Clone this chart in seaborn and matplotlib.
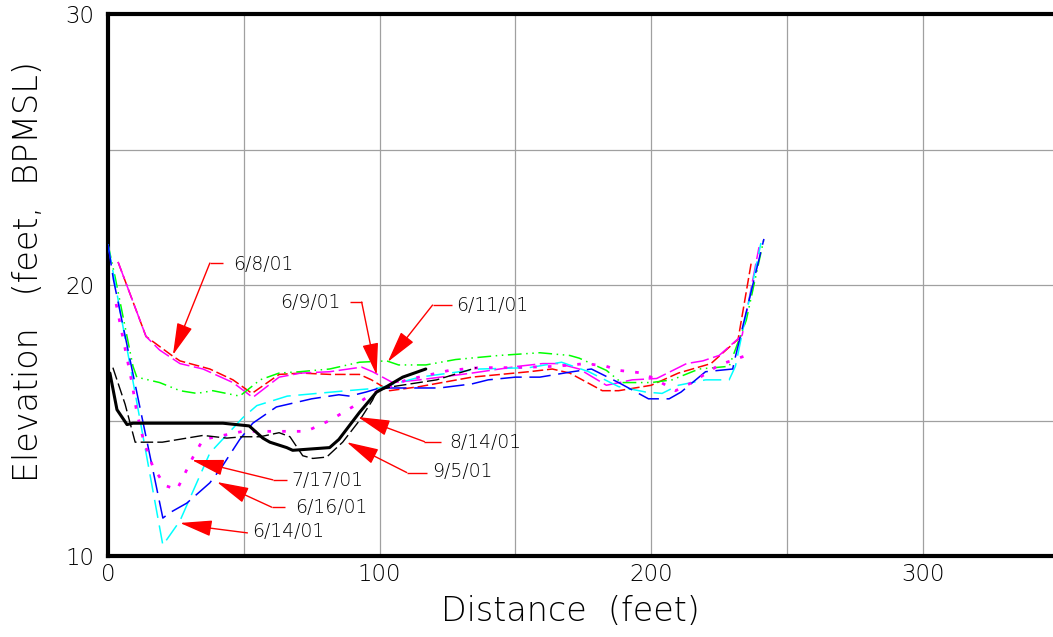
import matplotlib
matplotlib.use("Agg")
import matplotlib.pyplot as plt
import seaborn as sns
import pandas as pd

# Cross-section survey profiles: distance (ft) vs elevation (ft, BPMSL)
d_0608 = [3.7, 14, 23.5, 26.5, 37.5, 46, 53, 63, 71, 82, 92.6, 97, 103.7, 114.7, 134, 155, 163.6, 170, 182, 188, 200, 210, 222, 232, 236.8]
e_0608 = [20.85, 18.1, 17.4, 17.2, 16.9, 16.5, 16.0, 16.7, 16.75, 16.7, 16.7, 16.5, 16.1, 16.25, 16.6, 16.8, 16.9, 16.75, 16.1, 16.1, 16.3, 16.75, 17.1, 18.0, 20.8]

d_0609 = [3.7, 14, 19, 26.5, 35, 46, 53.3, 63, 71, 81.6, 93.4, 97.4, 104.8, 114.7, 134, 151, 160, 166, 173.5, 183.5, 193, 202, 213, 219, 225, 233.5, 239.7]
e_0609 = [20.85, 18.1, 17.6, 17.1, 16.9, 16.4, 15.85, 16.6, 16.75, 16.8, 16.97, 16.8, 16.4, 16.5, 16.75, 17.0, 17.1, 17.1, 16.9, 16.3, 16.5, 16.55, 17.1, 17.2, 17.4, 18.15, 21.4]

d_0611 = [0, 2.6, 9.2, 10.6, 19, 26.5, 32.7, 38.6, 48.5, 56, 63, 70.6, 81.6, 92.6, 102.6, 107, 117, 128, 144, 159, 170, 173.5, 183.5, 189, 200, 207.7, 217.6, 228.7, 235, 241.5]
e_0611 = [21.5, 20.3, 17.0, 16.6, 16.4, 16.1, 16.0, 16.1, 15.9, 16.5, 16.75, 16.8, 16.9, 17.15, 17.2, 17.05, 17.05, 17.25, 17.4, 17.5, 17.4, 17.3, 16.85, 16.4, 16.4, 16.5, 16.9, 17.0, 18.7, 21.7]

d_0614 = [0, 20.2, 26.5, 37.5, 49.6, 54.8, 66, 88, 100, 114.7, 136.8, 155, 167, 177, 188, 198, 204, 210, 220, 228.7, 231, 240.4]
e_0614 = [21.5, 10.4, 11.3, 13.8, 15.1, 15.55, 15.9, 16.1, 16.2, 16.6, 16.9, 16.95, 17.15, 16.8, 16.25, 16.05, 16.0, 16.3, 16.5, 16.5, 17.0, 21.55]

d_0616 = [0, 2, 20.2, 22.8, 29, 37.5, 42, 48.5, 53.3, 62, 75, 85, 89, 95, 100, 116, 122, 134, 140, 150, 159, 171, 178, 188, 199, 206.6, 211, 220, 230, 231, 241.5]
e_0616 = [21.5, 20.2, 11.4, 11.6, 11.95, 12.7, 13.3, 14.3, 14.9, 15.5, 15.8, 15.95, 15.9, 16.05, 16.2, 16.2, 16.2, 16.35, 16.5, 16.6, 16.6, 16.8, 16.9, 16.4, 15.8, 15.8, 16.05, 16.8, 16.9, 17.35, 21.7]

d_0717 = [3, 7, 8.8, 10.6, 13, 16.5, 21, 25.4, 27.6, 31.3, 35, 40, 49.6, 58.5, 73, 81.6, 90, 97.4, 110, 125.7, 136.8, 149, 165, 176, 183.5, 188, 197, 205.5, 209, 215, 225, 235]
e_0717 = [19.3, 17.3, 16.4, 15.3, 14.3, 13.3, 12.6, 12.45, 12.9, 13.65, 14.3, 14.4, 14.6, 14.6, 14.6, 15.0, 15.5, 16.0, 16.5, 16.85, 16.95, 16.95, 17.0, 17.1, 17.0, 16.85, 16.75, 16.3, 16.1, 16.4, 17.05, 17.4]

d_0814 = [0.7, 3.3, 7, 9.2, 42.3, 52, 57, 59.6, 65.8, 68, 81.6, 85, 92.6, 98.9, 102.6, 108.5, 117]
e_0814 = [16.75, 15.4, 14.85, 14.9, 14.9, 14.8, 14.35, 14.2, 14.0, 13.9, 14.0, 14.3, 15.3, 16.05, 16.25, 16.6, 16.9]

d_0905 = [1.8, 6.3, 10, 20, 35, 43.7, 49.6, 56, 63, 67, 71.7, 75.4, 80.5, 86.4, 92.6, 97.4, 99, 104.8, 121, 135.7]
e_0905 = [16.95, 15.6, 14.2, 14.2, 14.45, 14.35, 14.4, 14.4, 14.55, 14.4, 13.7, 13.6, 13.65, 14.2, 15.0, 15.75, 16.1, 16.25, 16.5, 16.95]

x_ticks = [0, 100, 200, 300]
y_ticks = [10, 20, 30]

series = [
    ("6/8/01", d_0608, e_0608, "#ff0000", (0, (7, 2.5)), 1.1),
    ("6/9/01", d_0609, e_0609, "#ff00ff", (0, (12, 3)), 1.1),
    ("6/11/01", d_0611, e_0611, "#00ff00", (0, (9, 3, 1, 3, 1, 3)), 1.1),
    ("6/14/01", d_0614, e_0614, "#00ffff", (0, (12, 5)), 1.1),
    ("6/16/01", d_0616, e_0616, "#0000ff", (0, (14, 5)), 1.1),
    ("7/17/01", d_0717, e_0717, "#ff00ff", (0, (1.3, 4)), 2.0),
    ("8/14/01", d_0814, e_0814, "#000000", "-", 2.2),
    ("9/5/01", d_0905, e_0905, "#000000", (0, (9, 3)), 1.0),
]

# Callouts: label, text anchor, alignment, elbow, leader start, arrow tip
callouts = [
    ("6/8/01", (46.0, 20.74), "left", (42.3, 20.81), (37.5, 20.81), (23.9, 17.42)),
    ("6/9/01", (85.7, 19.35), "right", (89.0, 19.37), (93.4, 19.37), (98.9, 16.68)),
    ("6/11/01", (128.3, 19.26), "left", (126.5, 19.26), (119.5, 19.26), (103.0, 17.16)),
    ("8/14/01", (125.7, 14.2), "left", (122.5, 14.22), (116.5, 14.22), (92.0, 15.13)),
    ("9/5/01", (119.5, 13.1), "left", (117.3, 13.08), (110.0, 13.08), (87.9, 14.2)),
    ("7/17/01", (67.6, 12.8), "left", (65.8, 12.81), (60.7, 12.81), (30.9, 13.54)),
    ("6/16/01", (68.8, 11.8), "left", (65.1, 11.8), (60.3, 11.8), (40.1, 12.73)),
    ("6/14/01", (52.9, 10.89), "left", (51.5, 10.85), (37.5, 11.03), (26.5, 11.22)),
]

sns.set_theme(style="white")
plt.rcParams["font.family"] = ["DejaVu Sans"]
thin = 200

fig = plt.figure(figsize=(10.53, 6.37), dpi=100)
ax = fig.add_axes([108 / 1053, 81 / 637, 950.6 / 1053, 542 / 637])

for label, d, e, color, ls, lw in series:
    df = pd.DataFrame({"Distance": d, "Elevation": e})
    sns.lineplot(data=df, x="Distance", y="Elevation", ax=ax, color=color,
                 linestyle=ls, linewidth=lw, sort=False, estimator=None,
                 legend=False, zorder=3 if label != "8/14/01" else 4)

for text, (tx, ty), ha, (ex, ey), (sx, sy), tip in callouts:
    ax.text(tx, ty, text, ha=ha, va="center", fontsize=13.5, color="black",
            fontweight=thin, zorder=6)
    ax.plot([ex, sx], [ey, sy], color="red", lw=1.0, zorder=5, solid_capstyle="butt")
    ax.annotate("", xy=tip, xytext=(sx, sy),
                arrowprops=dict(arrowstyle="-|>,head_length=2.0,head_width=0.5",
                                color="red", lw=1.0, shrinkA=0, shrinkB=0,
                                mutation_scale=10),
                zorder=5)

ax.set_xlim(0, 350)
ax.set_ylim(10, 30)
ax.set_xticks(range(0, 351, 50))
ax.set_xticklabels([str(v) if v in x_ticks else "" for v in range(0, 351, 50)])
ax.set_yticks(range(10, 31, 5))
ax.set_yticklabels([str(v) if v in y_ticks else "" for v in range(10, 31, 5)])
ax.grid(True, color="#a0a0a0", linewidth=0.9)
ax.tick_params(axis="both", length=0, labelsize=16.5, colors="black")
ax.tick_params(axis="x", pad=5)
ax.tick_params(axis="y", pad=10)
for lab in ax.get_xticklabels() + ax.get_yticklabels():
    lab.set_fontweight(thin)

for side in ("left", "top", "bottom", "right"):
    ax.spines[side].set_color("black")
    ax.spines[side].set_linewidth(3.0)

ax.set_xlabel("Distance  (feet)", fontsize=24, color="black", fontweight=thin)
ax.set_ylabel("Elevation   (feet,  BPMSL)", fontsize=24, color="black",
              fontweight=thin)
ax.xaxis.set_label_coords(0.4866, -0.072)
ax.yaxis.set_label_coords(-0.066, 0.524)

fig.savefig("out.png", dpi=100)
